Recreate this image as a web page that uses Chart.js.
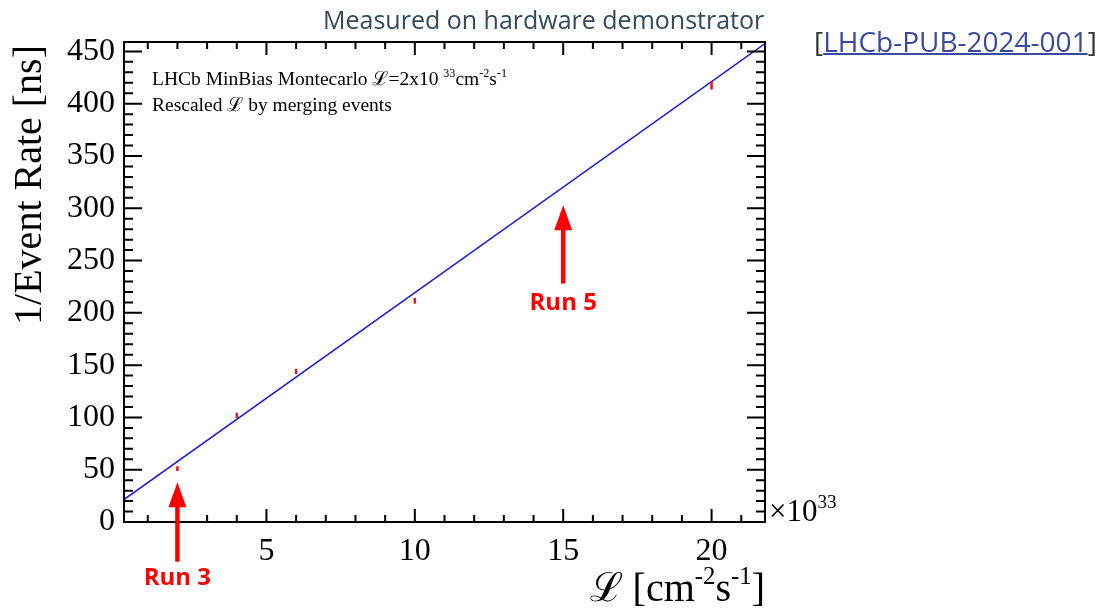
<!DOCTYPE html>
<html>
<head>
<meta charset="utf-8">
<script src="https://cdn.jsdelivr.net/npm/chart.js@4.4.1/dist/chart.umd.min.js"></script>
<style>
  body{margin:0;background:#fff;}
  #wrap{position:relative;width:1103px;height:610px;}
  #head{position:absolute;left:323px;top:2px;font-family:"Open Sans",sans-serif;font-size:25px;color:#34495e;white-space:nowrap;}
  #ref{position:absolute;left:814px;top:22px;font-family:"Open Sans",sans-serif;font-size:28px;color:#333;white-space:nowrap;}
  #ref a{color:#3b4aa0;text-decoration:underline;text-decoration-thickness:2px;}
</style>
</head>
<body>
<div id="wrap">
  <canvas id="grafica" width="1103" height="610"></canvas>
  <div id="head">Measured on hardware demonstrator</div>
  <div id="ref">[<a href="#">LHCb-PUB-2024-001</a>]</div>
</div>
<script>
// luminosity in units of 1e33 cm-2 s-1
const lumi=[2,4,6,10,20];
const invRate=[51,102,144,211.5,417.5];
const errores=[2.3,2.5,2.5,2.7,4];
// fitted straight line, end points
const fitX=[0.2,21.8];
const fitY=[21.5,457.5];
const xTicks=[5,10,15,20];
const yTicks=[0,50,100,150,200,250,300,350,400,450];
// arrows: x, tip, base, text
const flechaX=[2,15];
const flechaPunta=[38,303];
const flechaBase=[-38,228];
const flechaTexto=["Run 3","Run 5"];
const flechaTextoY=[-54,209];

const serif="'Liberation Serif','DejaVu Serif',serif";

function supText(ctx,parts,x,y,size,align){
    // parts: [text, isSup]
    let w=0;
    parts.forEach(p=>{
        ctx.font=(p[1]?size*0.62:size)+"px "+serif;
        w+=ctx.measureText(p[0]).width;
    });
    let cx=align==="right"?x-w:x;
    parts.forEach(p=>{
        ctx.font=(p[1]?size*0.62:size)+"px "+serif;
        ctx.textAlign="left";
        ctx.fillText(p[0],cx,p[1]?y-size*0.42:y);
        cx+=ctx.measureText(p[0]).width;
    });
}

const marcoRoot={
    id:"marcoRoot",
    afterDraw(chart){
        const ctx=chart.ctx;
        const a=chart.chartArea;
        const sx=chart.scales.x, sy=chart.scales.y;
        ctx.save();
        ctx.strokeStyle="#000";
        ctx.fillStyle="#000";
        ctx.lineWidth=2;
        ctx.strokeRect(a.left,a.top,a.right-a.left,a.bottom-a.top);
        // x ticks (inside, bottom and top)
        for(let v=1;v<=21;v++){
            const px=sx.getPixelForValue(v);
            const len=(v%5===0)?13:7;
            ctx.beginPath();
            ctx.moveTo(px,a.bottom);ctx.lineTo(px,a.bottom-len);
            ctx.moveTo(px,a.top);ctx.lineTo(px,a.top+len);
            ctx.stroke();
        }
        // y ticks (inside, left and right)
        for(let v=0;v<=450;v+=10){
            const py=sy.getPixelForValue(v);
            const len=(v%50===0)?18:9;
            ctx.beginPath();
            ctx.moveTo(a.left,py);ctx.lineTo(a.left+len,py);
            ctx.moveTo(a.right,py);ctx.lineTo(a.right-len,py);
            ctx.stroke();
        }
        // error bars
        ctx.strokeStyle="#e8131b";
        ctx.lineWidth=2.5;
        lumi.forEach((x,i)=>{
            const px=sx.getPixelForValue(x);
            ctx.beginPath();
            ctx.moveTo(px,sy.getPixelForValue(invRate[i]-errores[i]));
            ctx.lineTo(px,sy.getPixelForValue(invRate[i]+errores[i]));
            ctx.stroke();
        });
        // arrows
        ctx.fillStyle="#ff0000";
        ctx.strokeStyle="#ff0000";
        flechaX.forEach((x,i)=>{
            const px=sx.getPixelForValue(x);
            const tip=sy.getPixelForValue(flechaPunta[i]);
            const base=sy.getPixelForValue(flechaBase[i]);
            ctx.lineWidth=4.5;
            ctx.beginPath();
            ctx.moveTo(px,base);ctx.lineTo(px,tip+20);
            ctx.stroke();
            ctx.beginPath();
            ctx.moveTo(px,tip);ctx.lineTo(px-9,tip+25);ctx.lineTo(px+9,tip+25);ctx.closePath();
            ctx.fill();
            ctx.font="bold 24px 'Open Sans',sans-serif";
            ctx.textAlign="center";
            ctx.textBaseline="middle";
            ctx.fillText(flechaTexto[i],px,sy.getPixelForValue(flechaTextoY[i]));
        });
        // texts
        ctx.fillStyle="#000";
        ctx.textBaseline="alphabetic";
        supText(ctx,[["LHCb MinBias Montecarlo ℒ=2x10 ",0],["33",1],["cm",0],["-2",1],["s",0],["-1",1]],a.left+28,85,19.5,"left");
        supText(ctx,[["Rescaled ℒ by merging events",0]],a.left+28,111,19.5,"left");
        supText(ctx,[["×10",0],["33",1]],a.right+4,521,31,"left");
        supText(ctx,[["ℒ [cm",0],["-2",1],["s",0],["-1",1],["]",0]],a.right,601,40,"right");
        // y title
        ctx.translate(41,a.top+3);
        ctx.rotate(-Math.PI/2);
        ctx.font="40px "+serif;
        ctx.textAlign="right";
        ctx.fillText("1/Event Rate [ns]",0,0);
        ctx.restore();
    }
};

const ctx=document.getElementById("grafica");
const myChart=new Chart(ctx,{
    type:"scatter",
    data:{
        datasets:[{
            label:"Medidas",
            data:lumi.map((x,i)=>({x:x,y:invRate[i]})),
            pointRadius:0,
            showLine:false
        },{
            label:"Ajuste",
            data:fitX.map((x,i)=>({x:x,y:fitY[i]})),
            showLine:true,
            borderColor:"#1e22d8",
            borderWidth:1.5,
            pointRadius:0,
            fill:false
        }]
    },
    options:{
        responsive:false,
        animation:false,
        layout:{padding:{left:0,top:42,right:338,bottom:0}},
        plugins:{legend:{display:false},tooltip:{enabled:false}},
        scales:{
            x:{
                type:"linear",min:0.2,max:21.8,
                grid:{display:false,drawTicks:false},
                border:{display:false},
                afterBuildTicks(s){s.ticks=xTicks.map(v=>({value:v}));},
                afterFit(s){s.height=88;},
                ticks:{color:"#000",font:{family:serif,size:32},padding:10,maxRotation:0}
            },
            y:{
                type:"linear",min:0,max:459,
                grid:{display:false,drawTicks:false},
                border:{display:false},
                afterBuildTicks(s){s.ticks=yTicks.map(v=>({value:v}));},
                afterFit(s){s.width=124;},
                ticks:{color:"#000",font:{family:serif,size:32},padding:9}
            }
        }
    },
    plugins:[marcoRoot]
});
</script>
</body>
</html>
